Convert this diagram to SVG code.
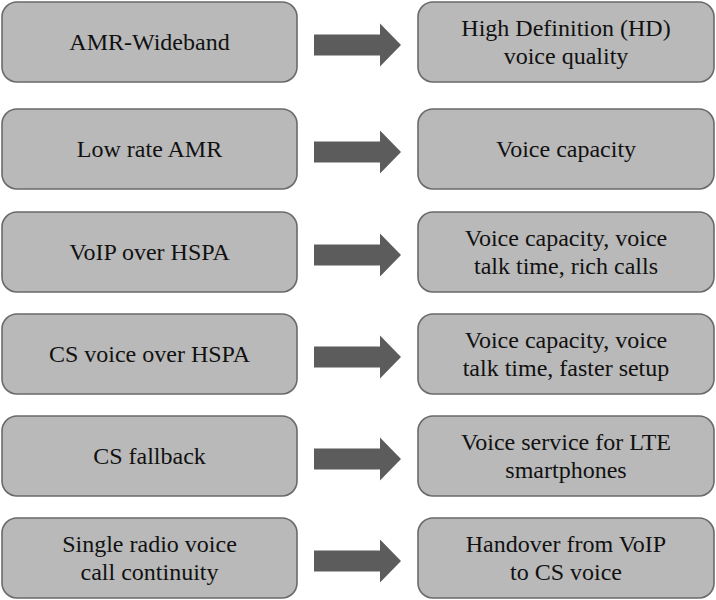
<svg xmlns="http://www.w3.org/2000/svg" width="716" height="600" viewBox="0 0 716 600">
<defs>
<path id="ar" d="M314,-10.5 H380 V-21.5 L401,0 L380,21.5 V10.5 H314 Z" fill="#5c5c5c"/>
<rect id="bl" x="2" y="0" width="295" height="80" rx="15" fill="#b9b9b9" stroke="#6a6a6a" stroke-width="1.6"/>
<rect id="br" x="418" y="0" width="296" height="80" rx="15" fill="#b9b9b9" stroke="#6a6a6a" stroke-width="1.6"/>
</defs>
<rect width="716" height="600" fill="#fff"/>
<g fill="#111" text-anchor="middle" font-size="24">
<g id="n1"><use href="#bl" y="2"/><text font-family="'Liberation Serif'" x="149.5" y="50">AMR-Wideband</text></g>
<g id="n2"><use href="#br" y="2"/><text font-family="'Liberation Serif'" x="566" y="36">High Definition (HD)</text><text font-family="'Liberation Serif'" x="566" y="64">voice quality</text></g>
<g id="n3"><use href="#bl" y="109"/><text font-family="'Liberation Serif'" x="149.5" y="157">Low rate AMR</text></g>
<g id="n4"><use href="#br" y="109"/><text font-family="'Liberation Serif'" x="566" y="157">Voice capacity</text></g>
<g id="n5"><use href="#bl" y="212"/><text font-family="'Liberation Serif'" x="149.5" y="260">VoIP over HSPA</text></g>
<g id="n6"><use href="#br" y="212"/><text font-family="'Liberation Serif'" x="566" y="246">Voice capacity, voice</text><text font-family="'Liberation Serif'" x="566" y="274">talk time, rich calls</text></g>
<g id="n7"><use href="#bl" y="314"/><text font-family="'Liberation Serif'" x="149.5" y="362">CS voice over HSPA</text></g>
<g id="n8"><use href="#br" y="314"/><text font-family="'Liberation Serif'" x="566" y="348">Voice capacity, voice</text><text font-family="'Liberation Serif'" x="566" y="376">talk time, faster setup</text></g>
<g id="n9"><use href="#bl" y="416"/><text font-family="'Liberation Serif'" x="149.5" y="464">CS fallback</text></g>
<g id="n10"><use href="#br" y="416"/><text font-family="'Liberation Serif'" x="566" y="450">Voice service for LTE</text><text font-family="'Liberation Serif'" x="566" y="478">smartphones</text></g>
<g id="n11"><use href="#bl" y="518"/><text font-family="'Liberation Serif'" x="149.5" y="552">Single radio voice</text><text font-family="'Liberation Serif'" x="149.5" y="580">call continuity</text></g>
<g id="n12"><use href="#br" y="518"/><text font-family="'Liberation Serif'" x="566" y="552">Handover from VoIP</text><text font-family="'Liberation Serif'" x="566" y="580">to CS voice</text></g>
</g>
<g id="connectors">
<use href="#ar" y="45"/>
<use href="#ar" y="152"/>
<use href="#ar" y="255"/>
<use href="#ar" y="357"/>
<use href="#ar" y="459"/>
<use href="#ar" y="561"/>
</g>
</svg>
